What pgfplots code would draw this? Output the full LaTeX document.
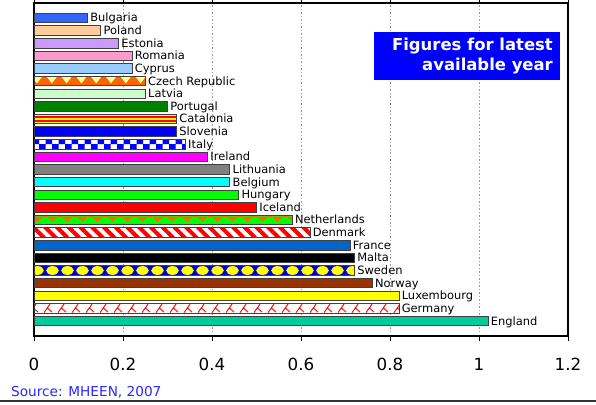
\documentclass[border=0pt]{standalone}
\usepackage{pgfplots}
\pgfplotsset{compat=1.18}
\usepackage{fontspec}
\setmainfont{DejaVu Sans}
\usetikzlibrary{patterns,patterns.meta}

\definecolor{cBul}{HTML}{3366FF}
\definecolor{cPol}{HTML}{FFCC99}
\definecolor{cEst}{HTML}{CC99FF}
\definecolor{cRom}{HTML}{FF99CC}
\definecolor{cCyp}{HTML}{99CCFF}
\definecolor{cOra}{HTML}{FF6600}
\definecolor{cLYel}{HTML}{FFFF99}
\definecolor{cLat}{HTML}{CCFFCC}
\definecolor{cPor}{HTML}{008000}
\definecolor{cBlue}{HTML}{0000FF}
\definecolor{cIre}{HTML}{FF00FF}
\definecolor{cLit}{HTML}{808080}
\definecolor{cBel}{HTML}{00FFFF}
\definecolor{cHun}{HTML}{00FF00}
\definecolor{cRed}{HTML}{FF0000}
\definecolor{cFra}{HTML}{0066CC}
\definecolor{cSweB}{HTML}{0000CC}
\definecolor{cNor}{HTML}{993300}
\definecolor{cYel}{HTML}{FFFF00}
\definecolor{cEng}{HTML}{00CC99}
\definecolor{cSrc}{HTML}{2828FF}

% tiles are 12.625bp high (one bar step), bar centre sits at y=8.25bp
\pgfdeclarepatternformonly{czech}{\pgfqpoint{0bp}{1.94bp}}{\pgfqpoint{14.8bp}{14.56bp}}{\pgfqpoint{14.8bp}{12.625bp}}{%
  \pgfpathmoveto{\pgfqpoint{2bp}{13bp}}\pgfpathlineto{\pgfqpoint{12.8bp}{13bp}}%
  \pgfpathlineto{\pgfqpoint{7.4bp}{6bp}}\pgfpathclose\pgfusepath{fill}}
\pgfdeclarepatternformonly{neth}{\pgfqpoint{0bp}{1.94bp}}{\pgfqpoint{15bp}{14.56bp}}{\pgfqpoint{15bp}{12.625bp}}{%
  \pgfpathrectangle{\pgfqpoint{0bp}{11.4bp}}{\pgfqpoint{15bp}{2bp}}%
  \pgfpathmoveto{\pgfqpoint{1.5bp}{12bp}}\pgfpathlineto{\pgfqpoint{13.5bp}{12bp}}%
  \pgfpathlineto{\pgfqpoint{7.5bp}{6.5bp}}\pgfpathclose\pgfusepath{fill}}
\pgfdeclarepatternformonly{swe}{\pgfqpoint{0bp}{1.94bp}}{\pgfqpoint{15bp}{14.56bp}}{\pgfqpoint{15bp}{12.625bp}}{%
  \pgfpathellipse{\pgfqpoint{7.5bp}{8.25bp}}{\pgfqpoint{6.3bp}{0bp}}{\pgfqpoint{0bp}{4.4bp}}\pgfusepath{fill}}
\pgfdeclarepatternformonly{ita}{\pgfqpoint{0bp}{1.94bp}}{\pgfqpoint{13bp}{14.56bp}}{\pgfqpoint{13bp}{12.625bp}}{%
  \pgfpathrectangle{\pgfqpoint{0bp}{3.5bp}}{\pgfqpoint{6.5bp}{4.75bp}}%
  \pgfpathrectangle{\pgfqpoint{6.5bp}{8.25bp}}{\pgfqpoint{6.5bp}{4.75bp}}\pgfusepath{fill}}
\pgfdeclarepatternformonly{ger}{\pgfqpoint{0bp}{1.94bp}}{\pgfqpoint{14bp}{14.56bp}}{\pgfqpoint{14bp}{12.625bp}}{%
  \pgfsetlinewidth{0.9bp}%
  \pgfpathmoveto{\pgfqpoint{2bp}{4bp}}\pgfpathlineto{\pgfqpoint{8bp}{12.5bp}}%
  \pgfpathmoveto{\pgfqpoint{5.5bp}{8.5bp}}\pgfpathlineto{\pgfqpoint{10bp}{4.5bp}}\pgfusepath{stroke}}

\pgfplotsset{
  cbar/.style={xbar, bar shift=0pt, bar width=0.75, draw=black!75, line width=0.8bp,
    nodes near coords={#1},
    every node near coord/.append style={anchor=base west, yshift=-4bp,
      font=\fontsize{11.5}{12}\selectfont, text=black, inner xsep=2.5bp}},
  pbar/.style={xbar, bar shift=0pt, bar width=0.75, draw=none},
}

\begin{document}
\begin{tikzpicture}
\useasboundingbox (0,0) rectangle (596bp,405bp);
\begin{axis}[
  at={(34bp,69bp)}, anchor=south west, scale only axis,
  width=534bp, height=333bp,
  xmin=0, xmax=1.2, ymin=-1.188, ymax=25.188,
  ytick=\empty,
  xtick={0,0.2,0.4,0.6,0.8,1,1.2},
  xmajorgrids, major grid style={gray!80, line width=0.6bp, dash pattern=on 1.5bp off 2bp},
  tick align=outside, major tick length=5bp, tick style={black, line width=0.8bp},
  axis line style={black, line width=1.1bp},
  /pgf/number format/assume math mode=true,
  xticklabel style={font=\fontsize{16.8}{18}\selectfont, inner sep=0pt, yshift=-17bp},
]
\addplot[cbar=Bulgaria, fill=cBul] coordinates {(0.12,24)};
\addplot[cbar=Poland, fill=cPol] coordinates {(0.15,23)};
\addplot[cbar=Estonia, fill=cEst] coordinates {(0.19,22)};
\addplot[cbar=Romania, fill=cRom] coordinates {(0.22,21)};
\addplot[cbar=Cyprus, fill=cCyp] coordinates {(0.22,20)};
\addplot[cbar=Czech Republic, preaction={fill=cOra}, pattern=czech, pattern color=cLYel] coordinates {(0.25,19)};
\addplot[cbar=Latvia, fill=cLat] coordinates {(0.25,18)};
\addplot[cbar=Portugal, fill=cPor] coordinates {(0.30,17)};
\addplot[pbar, fill=cYel] coordinates {(0.32,16)};
\addplot[pbar, bar width=0.5, fill=cRed] coordinates {(0.32,16)};
\addplot[pbar, bar width=0.16, fill=cYel] coordinates {(0.32,16)};
\addplot[cbar=Catalonia, fill=none] coordinates {(0.32,16)};
\addplot[cbar=Slovenia, fill=cBlue] coordinates {(0.32,15)};
\addplot[cbar=Italy, preaction={fill=white}, pattern=ita, pattern color=cBlue] coordinates {(0.34,14)};
\addplot[cbar=Ireland, fill=cIre] coordinates {(0.39,13)};
\addplot[cbar=Lithuania, fill=cLit] coordinates {(0.44,12)};
\addplot[cbar=Belgium, fill=cBel] coordinates {(0.44,11)};
\addplot[cbar=Hungary, fill=cHun] coordinates {(0.46,10)};
\addplot[cbar=Iceland, fill=cRed] coordinates {(0.50,9)};
\addplot[cbar=Netherlands, preaction={fill=cHun}, pattern=neth, pattern color=cOra] coordinates {(0.58,8)};
\addplot[cbar=Denmark, preaction={fill=white}, pattern={Lines[angle=-45, distance=8.3bp, line width=4bp]}, pattern color=cRed] coordinates {(0.62,7)};
\addplot[cbar=France, fill=cFra] coordinates {(0.71,6)};
\addplot[cbar=Malta, fill=black] coordinates {(0.72,5)};
\addplot[cbar=Sweden, preaction={fill=cSweB}, pattern=swe, pattern color=cYel] coordinates {(0.72,4)};
\addplot[cbar=Norway, fill=cNor] coordinates {(0.76,3)};
\addplot[cbar=Luxembourg, fill=cYel] coordinates {(0.82,2)};
\addplot[cbar=Germany, preaction={fill=white}, pattern=ger, pattern color=cRed] coordinates {(0.82,1)};
\addplot[cbar=England, fill=cEng] coordinates {(1.02,0)};
\end{axis}
\fill[cBlue] (374bp,325bp) rectangle (560bp,373bp);
\node[anchor=east, align=right, text=white, inner sep=0pt,
  font=\fontsize{16.5}{21}\selectfont\bfseries] at (553bp,349bp) {Figures for latest\\available year};
\node[anchor=base west, inner sep=0pt, text=cSrc, font=\fontsize{13.7}{15}\selectfont] at (11bp,9bp) {Source: MHEEN, 2007};
\draw[black!80, line width=2bp] (0,4bp) -- (596bp,4bp);
\end{tikzpicture}
\end{document}
